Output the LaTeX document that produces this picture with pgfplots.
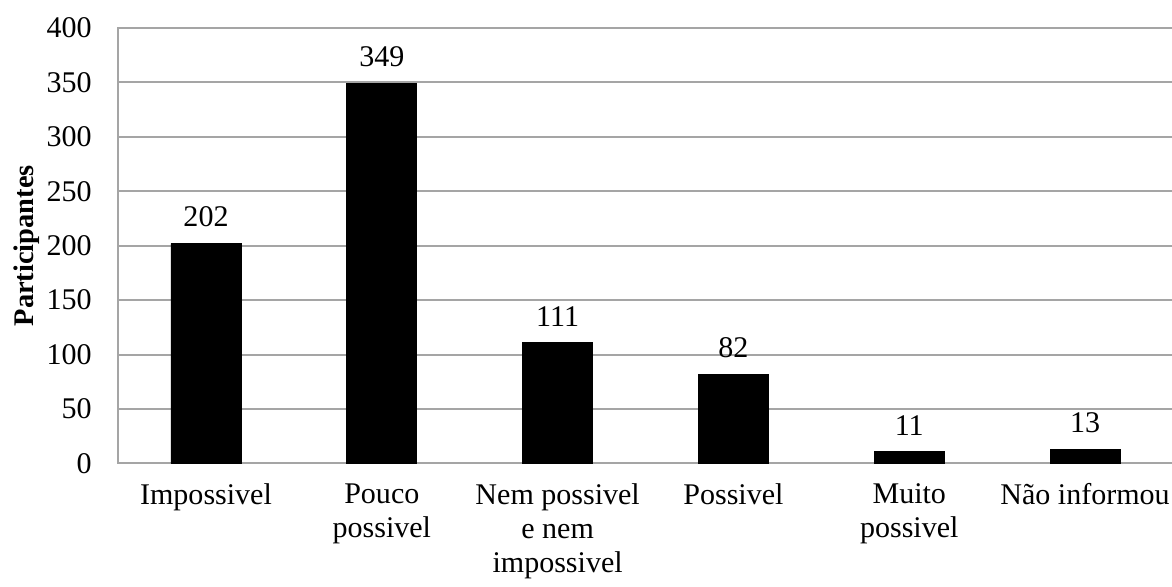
\documentclass[border=0pt]{standalone}
\usepackage{pgfplots}
\pgfplotsset{compat=1.18}
\usepackage{fontspec}
\setmainfont{Liberation Serif}
\definecolor{gridgray}{RGB}{165,165,165}
\begin{document}
\fontsize{15pt}{17.5pt}\selectfont
\begin{tikzpicture}
\begin{axis}[
  scale only axis,
  width=527pt, height=217.5pt,
  at={(0,0)}, anchor=south west,
  xmin=-0.5, xmax=5.5,
  ymin=0, ymax=400,
  ytick={0,50,...,400},
  xtick={0,1,2,3,4,5},
  xticklabels={Impossivel,{Pouco\\possivel},{Nem possivel\\e nem\\impossivel},Possivel,{Muito\\possivel},Não informou},
  xticklabel style={align=center, font=\fontsize{15pt}{17pt}\selectfont, yshift=-5pt},
  yticklabel style={font=\fontsize{15pt}{17.5pt}\selectfont, xshift=-8pt},
  /pgf/number format/assume math mode=true,
  major tick length=0pt,
  axis line style={gridgray, line width=1pt},
  ymajorgrids,
  grid style={gridgray, line width=1pt},
  ylabel={\textbf{Participantes}},
  ylabel style={at={(axis description cs:-0.087,0.5)}, anchor=center, rotate=0, font=\fontsize{14.2pt}{17pt}\selectfont},
  nodes near coords,
  nodes near coords style={font=\fontsize{15pt}{17.5pt}\selectfont, yshift=3pt},
  axis on top=false,
]
\addplot[ybar, bar width=35pt, fill=black, draw=black] coordinates {(0,202) (1,349) (2,111) (3,82) (4,11) (5,13)};
\end{axis}
\pgfresetboundingbox
\path[use as bounding box] (-59pt,-61.5pt) rectangle (526.5pt,231.5pt);
\end{tikzpicture}
\end{document}
